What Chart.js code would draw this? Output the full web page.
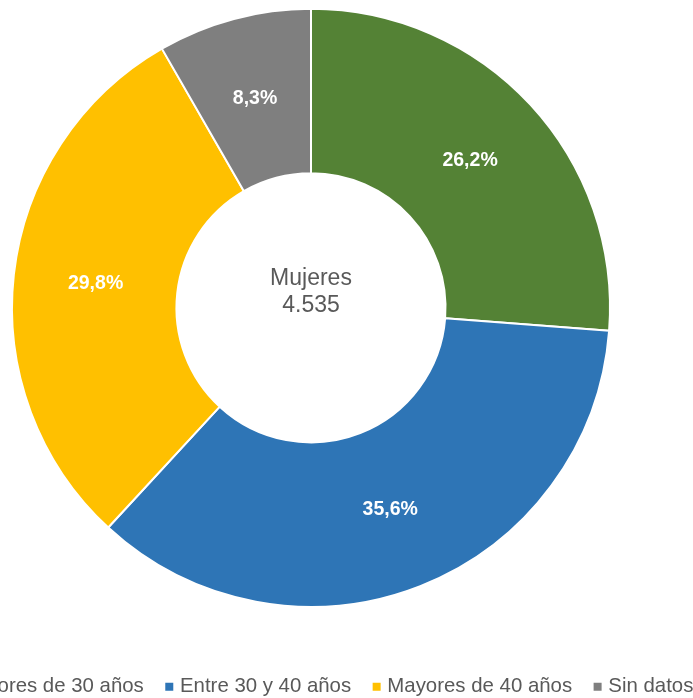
<!DOCTYPE html>
<html>
<head>
<meta charset="utf-8">
<script src="https://cdn.jsdelivr.net/npm/chart.js@4"></script>
<style>
  html, body { margin: 0; padding: 0; background: #fff; overflow: hidden; }
  body { width: 693px; height: 698px; position: relative; }
  /* canvas is wider/taller than the window so the legend runs off the left edge like the original */
  #wrap { position: absolute; left: -109px; top: -34px; width: 840px; height: 739px; }
</style>
</head>
<body>
<div id="wrap"><canvas id="chart"></canvas></div>
<script>
const categories = ['Menores de 30 años', 'Entre 30 y 40 años', 'Mayores de 40 años', 'Sin datos'];
const shares = [26.2, 35.6, 29.8, 8.3];
const sliceColors = ['#548235', '#2E75B6', '#FFC000', '#7F7F7F'];
const centerLines = ['Mujeres', '4.535'];

const font = "'Liberation Sans', Arial, sans-serif";

// percentage labels in the middle of each ring slice
const sliceLabels = {
    id: 'sliceLabels',
    afterDatasetsDraw(chart) {
        const ctx = chart.ctx;
        const meta = chart.getDatasetMeta(0);
        ctx.save();
        ctx.fillStyle = '#ffffff';
        ctx.font = 'bold 19.5px ' + font;
        ctx.textAlign = 'center';
        ctx.textBaseline = 'middle';
        meta.data.forEach((arc, i) => {
            const p = arc.tooltipPosition();
            ctx.fillText(shares[i].toFixed(1).replace('.', ',') + '%', p.x, p.y);
        });
        ctx.restore();
    }
};

// "Mujeres / 4.535" in the hole
const centerText = {
    id: 'centerText',
    afterDraw(chart) {
        const ctx = chart.ctx;
        const arc = chart.getDatasetMeta(0).data[0];
        ctx.save();
        ctx.fillStyle = '#595959';
        ctx.font = '23px ' + font;
        ctx.textAlign = 'center';
        ctx.textBaseline = 'middle';
        ctx.fillText(centerLines[0], arc.x, arc.y - 29);
        ctx.fillText(centerLines[1], arc.x, arc.y - 2);
        ctx.restore();
    }
};

// legend sits a bit right of (and lower than) where chart.js puts it
const nudgeLegend = {
    id: 'nudgeLegend',
    afterLayout(chart) {
        chart.legend.left += 9;
        chart.legend.right += 9;
        chart.legend.top += 2;
        chart.legend.bottom += 2;
    }
};

new Chart(document.getElementById('chart'), {
    type: 'doughnut',
    data: {
        labels: categories,
        datasets: [{
            data: shares,
            backgroundColor: sliceColors,
            borderColor: '#ffffff',
            borderWidth: 2,
            hoverOffset: 0
        }]
    },
    options: {
        responsive: true,
        maintainAspectRatio: false,
        animation: false,
        cutout: '45%',
        radius: 299,
        layout: { padding: 0 },
        events: [],
        plugins: {
            legend: {
                display: true,
                position: 'bottom',
                labels: {
                    usePointStyle: true,
                    pointStyle: 'rect',
                    boxWidth: 1,
                    boxHeight: 10,
                    padding: 25,
                    color: '#595959',
                    font: { family: font, size: 20.4 }
                }
            },
            tooltip: { enabled: false }
        }
    },
    plugins: [sliceLabels, centerText, nudgeLegend]
});
</script>
</body>
</html>
